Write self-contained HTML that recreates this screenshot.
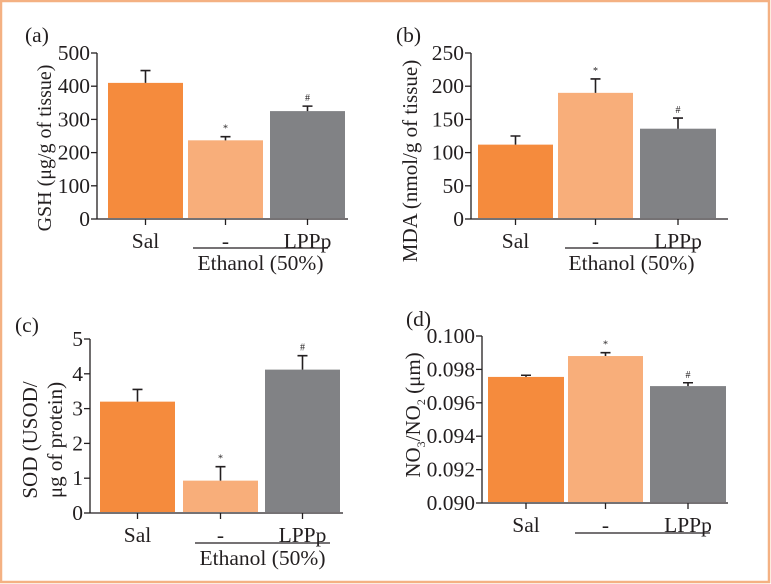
<!DOCTYPE html>
<html><head><meta charset="utf-8"><style>
html,body{margin:0;padding:0;background:#fff}
#wrap{position:relative;width:771px;height:584px;overflow:hidden}
svg{position:absolute;left:0;top:0;font-family:"Liberation Serif",serif;fill:#231f20}
</style></head><body>
<div id="wrap">
<svg id="fig" width="771" height="584" viewBox="0 0 771 584">
<rect x="1" y="1" width="768" height="581" fill="none" stroke="#f4b183" stroke-width="2.5"/>
</svg>
</div>
<script>
const categories = ["Sal", "-", "LPPp"];
const gshValues = [410, 237, 325];
const gshErrors = [37, 11, 15];
const mdaValues = [112, 190, 136];
const mdaErrors = [13, 21, 16];
const sodValues = [3.2, 0.93, 4.12];
const sodErrors = [0.35, 0.4, 0.4];
const noValues = [0.09755, 0.0988, 0.0970];
const noErrors = [0.0001, 0.0002, 0.0002];
const gshTicks = [0, 100, 200, 300, 400, 500];
const mdaTicks = [0, 50, 100, 150, 200, 250];
const sodTicks = [0, 1, 2, 3, 4, 5];
const noTicks = [0.090, 0.092, 0.094, 0.096, 0.098, 0.100];
const gshMarks = ["", "*", "#"];
const mdaMarks = ["", "*", "#"];
const sodMarks = ["", "*", "#"];
const noMarks = ["", "*", "#"];

const colors = ["#f58b3d", "#f8ae7a", "#818285"];
const NS = "http://www.w3.org/2000/svg";
const svg = document.getElementById("fig");
function mk(tag, attrs, parent){const e=document.createElementNS(NS,tag);for(const k in attrs)e.setAttribute(k,attrs[k]);(parent||svg).appendChild(e);return e;}

function panel(p){
  const g = mk("g",{});
  
  
  const ymin=p.ticks[0], ymax=p.ticks[p.ticks.length-1];
  const y = v => p.y0 + (v-ymin)/(ymax-ymin)*(p.ytop-p.y0);
  const ax = mk("line",{x1:p.ax,x2:p.ax,y1:p.y0,y2:p.ytop,stroke:"#231f20","stroke-width":1.3},g);
  
  
  p.ticks.forEach((t,i)=>{
    mk("line",{x1:p.ax-6,x2:p.ax,y1:y(t),y2:y(t),stroke:"#231f20","stroke-width":1.3},g);
    const tl = mk("text",{x:p.ax-7,y:y(t)+7,"text-anchor":"end","font-size":21.5,"font-family":"Liberation Serif, serif"},g);
    tl.textContent = p.fmt ? t.toFixed(3) : String(t);
    
    
  });
  const xa = mk("line",{x1:p.ax,x2:p.axEnd,y1:p.y0,y2:p.y0,stroke:"#231f20","stroke-width":1.3},g);
  
  
  categories.forEach((c,i)=>{
    const x0=p.bars[i][0], x1=p.bars[i][1], cx=(x0+x1)/2;
    const v=p.values[i], e=p.errors[i];
    const b = mk("rect",{x:x0,y:y(v),width:x1-x0,height:p.y0-y(v)-1,fill:colors[i]},g);
    
    
    const eb = mk("path",{d:`M${cx} ${y(v)} V${y(v+e)} M${cx-5} ${y(v+e)} H${cx+5}`,stroke:"#231f20","stroke-width":1.6,fill:"none"},g);
    
    
    if(p.marks[i]){
      const m = mk("text",{x:cx,y:y(v+e)-5,"text-anchor":"middle","font-size":10},g);
      m.textContent=p.marks[i];
      
      
    }
    mk("line",{x1:cx,x2:cx,y1:p.y0,y2:p.y0+6,stroke:"#231f20","stroke-width":1.3},g);
    const xl = mk("text",{x:cx,y:p.y0+29,"text-anchor":"middle","font-size":21.5},g);
    xl.textContent=c;
    
    
  });
  const br = mk("line",{x1:p.br[0],x2:p.br[1],y1:p.br[2],y2:p.br[2],stroke:"#231f20","stroke-width":1.3},g);
  
  
  if(p.eth){
    const et = mk("text",{x:(p.br[0]+p.br[1])/2,y:p.br[2]+22,"text-anchor":"middle","font-size":21.5},g);
    et.textContent="Ethanol (50%)";
    
    
  }
  const pl = mk("text",{x:p.lab[0],y:p.lab[1],"font-size":21.5},g);
  pl.textContent=p.letter;
  
  
  const cy=p.tcy;
  p.title.forEach((t,k)=>{
    const tt = mk("text",{x:0,y:0,"text-anchor":"middle","font-size":p.tfs||21,transform:`translate(${p.tx[k]},${cy}) rotate(-90)`},g);
    tt.innerHTML=t;
    
    
  });
}

panel({name:"panel-a-gsh",letter:"(a)",lab:[25,42],ax:97,axEnd:348,y0:219,ytop:53,ticks:gshTicks,values:gshValues,errors:gshErrors,marks:gshMarks,
  bars:[[108,183],[188,263],[270,345]],br:[193,328,248],eth:true,title:["GSH (μg/g of tissue)"],tx:[51],tcy:148,tfs:20});
panel({name:"panel-b-mda",letter:"(b)",lab:[396,42],ax:471,axEnd:728,y0:219,ytop:53,ticks:mdaTicks,values:mdaValues,errors:mdaErrors,marks:mdaMarks,
  bars:[[478,553],[558,633],[640,716]],br:[565,698,248],eth:true,title:["MDA (nmol/g of tissue)"],tx:[417],tcy:161});
panel({name:"panel-c-sod",letter:"(c)",lab:[15,332],ax:90,axEnd:343,y0:513,ytop:339,ticks:sodTicks,values:sodValues,errors:sodErrors,marks:sodMarks,
  bars:[[100,175],[183,258],[265,340]],br:[195,330,543],eth:true,title:["SOD (USOD/","μg of protein)"],tx:[37,62],tcy:440});
panel({name:"panel-d-no",letter:"(d)",lab:[406,326],ax:482,axEnd:728,y0:503,ytop:336,ticks:noTicks,values:noValues,errors:noErrors,marks:noMarks,fmt:true,
  bars:[[488,564],[568,643],[650,726]],br:[575,710,533],eth:false,
  title:['NO<tspan font-size="12" dy="5">3</tspan><tspan dy="-5">/NO</tspan><tspan font-size="12" dy="5">2</tspan><tspan dy="-5"> (μm)</tspan>'],tx:[420],tcy:415});
</script>
</body></html>
